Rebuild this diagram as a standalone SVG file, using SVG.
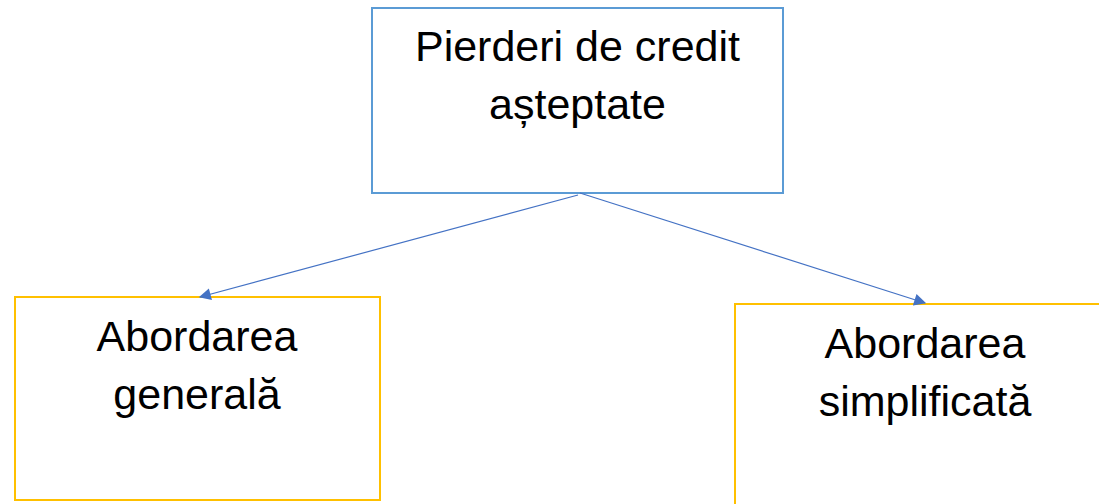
<svg xmlns="http://www.w3.org/2000/svg" width="1099" height="504" viewBox="0 0 1099 504">
<style>
.blue{fill:#fff;stroke:#5B9BD5;stroke-width:2}
.yel{fill:#fff;stroke:#FFC000;stroke-width:2}
.t{font-family:"Liberation Sans",Arial,sans-serif;font-size:43px;fill:#000;text-anchor:middle}
.c{stroke:#4472C4;stroke-width:1.2;fill:none;marker-end:url(#ah)}
</style>
<defs>
<marker id="ah" viewBox="0 0 10 10" refX="9" refY="5" markerWidth="13" markerHeight="12" markerUnits="userSpaceOnUse" orient="auto">
<path d="M0,0 L10,5 L0,10 z" fill="#4472C4"/>
</marker>
</defs>
<rect width="1099" height="504" fill="#fff"/>
<g id="n-top">
<rect class="blue" x="372" y="8" width="411" height="185"/>
<text class="t" x="577.5" y="61">Pierderi de credit</text>
<text class="t" x="577.5" y="119">așteptate</text>
</g>
<g id="n-left">
<rect class="yel" x="15" y="297" width="365" height="203"/>
<text class="t" x="197" y="351">Abordarea</text>
<text class="t" x="197" y="409">generală</text>
</g>
<g id="n-right">
<rect class="yel" x="735" y="304" width="380" height="220"/>
<text class="t" x="925" y="358">Abordarea</text>
<text class="t" x="925" y="416">simplificată</text>
</g>
<g id="connectors">
<path class="c" d="M578,195 L200,297"/>
<path class="c" d="M580,193 L925,303"/>
</g>
</svg>
